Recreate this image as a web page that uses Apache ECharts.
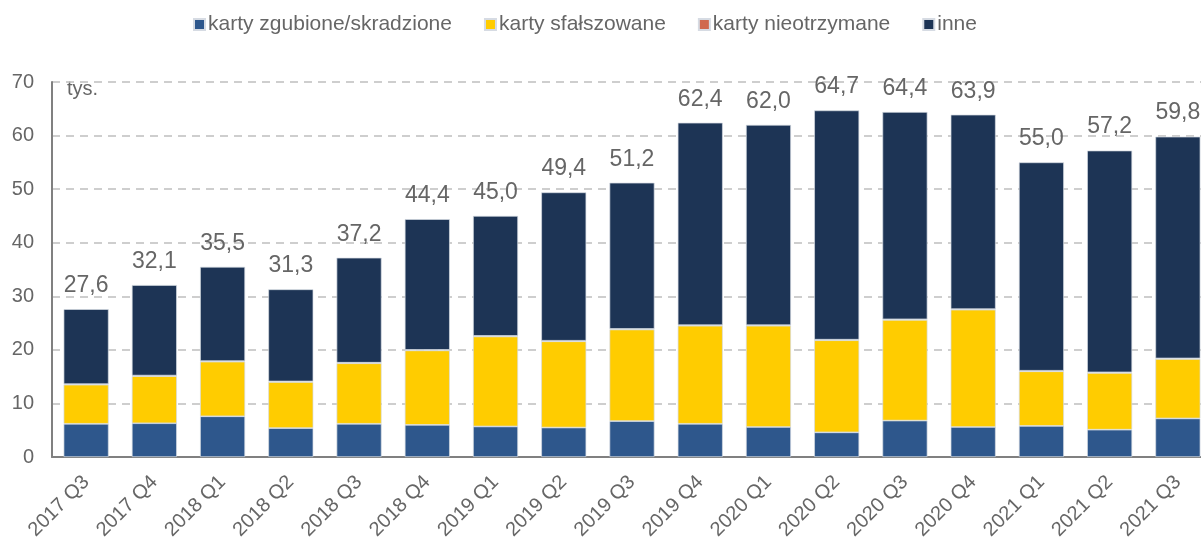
<!DOCTYPE html>
<html>
<head>
<meta charset="utf-8">
<script src="https://cdn.jsdelivr.net/npm/echarts@6/dist/echarts.min.js"></script>
<style>
  html, body { margin: 0; padding: 0; background: #fff; }
  #main { width: 1201px; height: 537px; }
</style>
</head>
<body>
<div id="main"></div>
<script>
// kwartały
var categories = ['2017 Q3', '2017 Q4', '2018 Q1', '2018 Q2', '2018 Q3', '2018 Q4',
  '2019 Q1', '2019 Q2', '2019 Q3', '2019 Q4', '2020 Q1', '2020 Q2', '2020 Q3',
  '2020 Q4', '2021 Q1', '2021 Q2', '2021 Q3'];
// tys. transakcji
var zgubione = [6.2, 6.3, 7.6, 5.4, 6.2, 6.0, 5.7, 5.5, 6.7, 6.2, 5.6, 4.6, 6.8, 5.6, 5.8, 5.1, 7.2];
var sfalszowane = [7.3, 8.8, 10.2, 8.6, 11.3, 13.9, 16.8, 16.1, 17.1, 18.3, 18.9, 17.2, 18.8, 21.9, 10.2, 10.6, 11.1];
var nieotrzymane = [0.1, 0.1, 0.1, 0.1, 0.1, 0.1, 0.1, 0.1, 0.1, 0.1, 0.1, 0.1, 0.1, 0.1, 0.1, 0.1, 0.1];
var inne = [14.0, 16.9, 17.6, 17.2, 19.6, 24.4, 22.4, 27.7, 27.3, 37.8, 37.4, 42.8, 38.7, 36.3, 38.9, 41.4, 41.4];
var sumy = [27.6, 32.1, 35.5, 31.3, 37.2, 44.4, 45.0, 49.4, 51.2, 62.4, 62.0, 64.7, 64.4, 63.9, 55.0, 57.2, 59.8];

var font = 'Liberation Sans, Arial, sans-serif';
var grey = '#666666';

var myChart = echarts.init(document.getElementById('main'));

function bar (name, data, color) {
    return {
        name: name,
        type: 'bar',
        stack: 'all',
        barCategoryGap: '34%',
        itemStyle: { color: color, borderColor: '#d6dbe3', borderWidth: 0.7 },
        data: data
    };
}

var last = bar('inne', inne, '#1d3455');
// etykiety z sumą nad słupkiem
last.label = {
    show: true,
    position: 'top',
    distance: 12,
    color: grey,
    fontFamily: font,
    fontSize: 23,
    formatter: function (p) {
        return sumy[p.dataIndex].toFixed(1).replace('.', ',');
    }
};

myChart.setOption({
    animation: false,
    textStyle: { fontFamily: font },
    legend: {
        top: 9,
        left: 188,
        itemWidth: 11,
        itemHeight: 11,
        itemGap: 32,
        icon: 'rect',
        textStyle: { color: grey, fontSize: 21, fontFamily: font, padding: [0, 0, 0, -2] },
        data: ['karty zgubione/skradzione', 'karty sfałszowane', 'karty nieotrzymane', 'inne']
    },
    // wykres ucięty z prawej strony
    grid: { left: 52, width: 1160, top: 82, bottom: 80, outerBoundsMode: 'none', containLabel: false },
    xAxis: {
        type: 'category',
        data: categories,
        axisLine: { lineStyle: { color: '#808080', width: 2 } },
        axisTick: { show: false },
        axisLabel: { rotate: 45, color: grey, fontSize: 20, fontFamily: font, margin: 22, interval: 0 }
    },
    yAxis: {
        type: 'value',
        min: 0,
        max: 70,
        interval: 10,
        axisLine: { show: true, lineStyle: { color: '#808080', width: 2 } },
        axisTick: { show: false },
        axisLabel: { color: grey, fontSize: 20, fontFamily: font, margin: 18 },
        splitLine: { lineStyle: { color: '#bfbfbf', type: [8, 6], width: 1.5 } }
    },
    graphic: [{
        type: 'text',
        left: 67,
        top: 79,
        style: { text: 'tys.', fill: grey, font: '20px ' + font }
    }],
    series: [
        bar('karty zgubione/skradzione', zgubione, '#2e578c'),
        bar('karty sfałszowane', sfalszowane, '#ffcc00'),
        bar('karty nieotrzymane', nieotrzymane, '#d0694e'),
        last
    ]
});
</script>
</body>
</html>
